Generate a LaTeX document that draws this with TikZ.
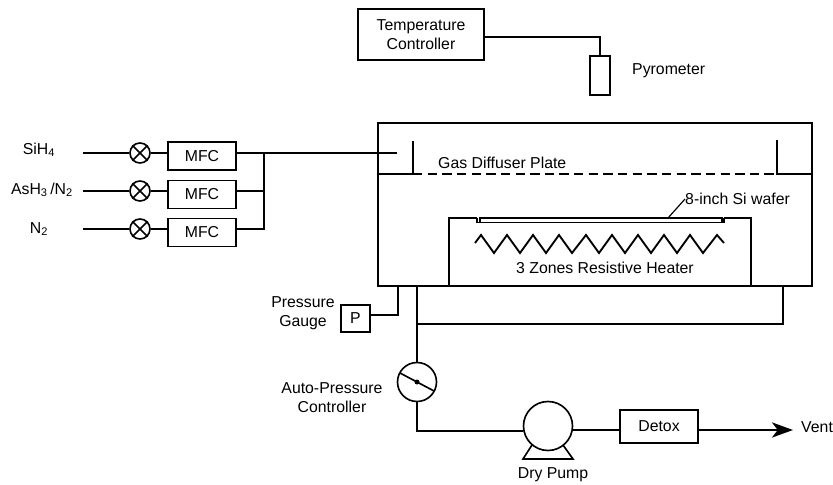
\documentclass[tikz,border=0pt]{standalone}
\usepackage{fontspec}
\setmainfont{Liberation Sans}
\usetikzlibrary{arrows.meta}
\tikzset{
	lbl/.style={inner sep=0pt, align=center, font=\fontsize{13.5}{16}\selectfont},
	unit/.style={draw, line width=1.3pt, inner sep=0pt, lbl},
	mfc/.style={unit, minimum width=68*0.03cm, minimum height=28*0.03cm},
	valve/.style={draw, circle, line width=1.4pt, inner sep=0pt, minimum size=20*0.03cm},
	pipe/.style={line width=1.6pt},
	wall/.style={line width=2.2pt}
}
\begin{document}
\begin{tikzpicture}[x=0.03cm,y=-0.03cm]
		\useasboundingbox (0,0) rectangle (833,485);
		% controller and pyrometer
		\node[unit, minimum width=126*0.03cm, minimum height=51*0.03cm] (tc) at (421,34.5) {Temperature\\Controller};
		\node[unit, minimum width=20*0.03cm, minimum height=39*0.03cm] (pyro) at (600,75.5) {};
		\node[lbl, anchor=west] (pyrolbl) at (632,71) {Pyrometer};
		\draw[pipe] (tc.east |- 0,37) -| (pyro.north);
		% chamber
		\node[draw, wall, minimum width=434*0.03cm, minimum height=163*0.03cm] (chamber) at (595,204.5) {};
		\coordinate (plateL) at (chamber.west |- 0,174);
		\coordinate (plateR) at (chamber.east |- 0,174);
		\coordinate (postL) at (413,174);
		\coordinate (postR) at (777,174);
		\draw[wall] (plateL) -- (postL) -- (413,141);
		\draw[wall] (plateR) -- (postR) -- (777,140);
		\draw[wall, dash pattern=on 8pt off 4.5pt] (postL) -- (postR);
		\node[lbl, anchor=west] (plate) at (438,163) {Gas Diffuser Plate};
		% heater and wafer
		\node[draw, pipe, minimum width=302*0.03cm, minimum height=68*0.03cm] (heater) at (600,252) {};
		\fill[white] (477,216.5) rectangle (724,223);
		\draw[pipe] (477,218) -- (477,222.5) -- (724,222.5) -- (724,218);
		\draw[line width=1pt] (480,222) -- (480,218) -- (722,218) -- (722,222);
		\node[lbl, anchor=west] (wafer) at (685,199) {8-inch Si wafer};
		\draw[line width=1pt] (668,218) -- (wafer.west);
		\draw[pipe] (475,243) -- (481,235) -- (494,253) -- (507,235) -- (520,253) -- (533,235) -- (546,253) -- (559,235) -- (572,253) -- (586,235) -- (599,253) -- (612,235) -- (625,253) -- (638,235) -- (651,253) -- (664,235) -- (677,253) -- (690,235) -- (703,253) -- (717,235) -- (724,243);
		\node[lbl] (heatlbl) at (605,268) {3 Zones Resistive Heater};
		% gas lines
		\node[lbl] (sih) at (39,150) {SiH\textsubscript{4}};
		\node[lbl] (ash) at (42,190) {AsH\textsubscript{3}\,/N\textsubscript{2}};
		\node[lbl] (nn) at (39,229) {N\textsubscript{2}};
		\coordinate (sihin) at (83,153);
		\coordinate (ashin) at (83,191);
		\coordinate (nnin) at (83,229);
		\node[valve] (v1) at (140,153) {};
		\node[valve] (v2) at (140,191) {};
		\node[valve] (v3) at (140,229) {};
		\foreach \v in {v1,v2,v3} {
			\draw[line width=1.4pt] (\v.north west) -- (\v.south east);
			\draw[line width=1.4pt] (\v.north east) -- (\v.south west);
		}
		\node[mfc] (m1) at (202,156) {MFC};
		\node[mfc] (m2) at (202,194.5) {MFC};
		\node[mfc] (m3) at (202,232.5) {MFC};
		\coordinate (inlet) at (397,153);
		\coordinate (tee) at (264,153);
		\draw[pipe] (sihin) -- (v1) (ashin) -- (v2) (nnin) -- (v3);
		\draw[pipe] (v1) -- (m1.west |- v1) (v2) -- (m2.west |- v2) (v3) -- (m3.west |- v3);
		\draw[pipe] (m1.east |- v1) -- (inlet);
		\draw[pipe] (m2.east |- v2) -- (tee |- v2);
		\draw[pipe] (m3.east |- v3) -| (tee);
		% pressure gauge and exhaust
		\node[unit, minimum width=29*0.03cm, minimum height=27*0.03cm] (gauge) at (355.5,318.5) {P};
		\node[lbl] (gaugetxt) at (303,313) {Pressure\\Gauge};
		\draw[pipe] (gauge.east |- 0,315) -| (398,286);
		\node[draw, circle, line width=1.4pt, inner sep=0pt, minimum size=39*0.03cm] (apc) at (417,382) {};
		\fill (apc.center) circle (2.5*0.03cm);
		\draw[line width=1.4pt] (400,373) -- (434,391);
		\node[lbl] (apclbl) at (332,398) {Auto-Pressure\\Controller};
		\draw[pipe] (417,286) -- (apc.north);
		\draw[pipe] (417,324) -- (783,324) -- (783,286);
		% pump line
		\node[draw, circle, line width=1.4pt, inner sep=0pt, minimum size=49*0.03cm] (pump) at (548,426) {};
		\draw[line width=1.4pt] (532,445) -- (523,459) -- (573,459) -- (563,445);
		\node[lbl] (pumplbl) at (553,475) {Dry Pump};
		\node[unit, minimum width=78*0.03cm, minimum height=33*0.03cm] (detox) at (659,426.5) {Detox};
		\node[lbl, anchor=west] (vent) at (801,427) {Vent};
		\coordinate (ventend) at (793,430);
		\draw[pipe] (apc.south) |- (pump.west |- 0,431);
		\draw[pipe] (pump.east |- 0,430) -- (detox.west |- 0,430);
		\draw[pipe, -{Stealth[length=18pt,width=13pt,inset=5pt]}] (detox.east |- 0,430) -- (ventend);
\end{tikzpicture}
\end{document}
